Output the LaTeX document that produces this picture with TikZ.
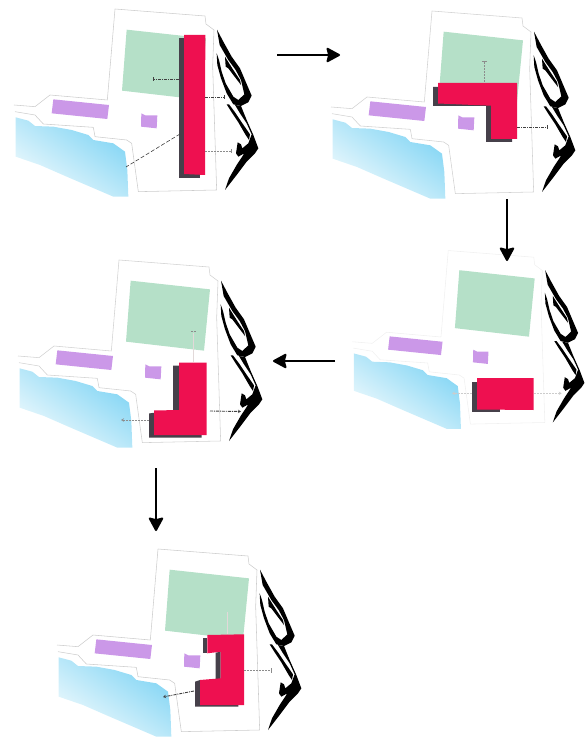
\documentclass[tikz,border=0pt]{standalone}
\usetikzlibrary{arrows.meta}
\definecolor{lawn}{HTML}{B5E0C8}
\definecolor{lilac}{HTML}{CB98E8}
\definecolor{bldg}{HTML}{EE1050}
\definecolor{shadowc}{HTML}{46404A}
\definecolor{seaA}{HTML}{7FD4F4}
\definecolor{seaB}{HTML}{F0FAFD}
\tikzset{
  x=1pt,y=-1pt,
  flow/.style={line width=2pt,-{Stealth[length=15pt,width=16pt,inset=2pt,round]}},
  view/.style={line width=0.9pt,dash pattern=on 3pt off 1pt on 1pt off 1pt,color=black!75},
  viewlight/.style={line width=0.5pt,dash pattern=on 2pt off 1pt,color=black!45},
  faint/.style={line width=0.5pt,color=red!25!black!15},
  head/.style={-{Stealth[length=3pt,width=3.5pt,open]}},
  stopbar/.style={-{Bar[width=4pt,length=0.8pt]}},
  rock/.style={fill=black,draw=none},
}
\newcommand{\sitebase}[4]{%
\begin{scope}[shift={(#1,#2)},scale=#4/3]
  \shade[top color=seaA,bottom color=seaB,shading angle=-35]
    (47,352)--(85,362)--(105,378)--(160,380)--(215,390)--(265,405)--(280,420)--(340,430)--(375,455)--(382,510)--(385,590)--(340,590)--(200,530)--(120,495)--(47,470)--cycle;
  \fill[lawn] (380,89)--(618,115)--(600,299)--(366,272)--cycle;
  \fill[lilac] (160,298)--(327,315)--(322,357)--(155,340)--cycle;
  \fill[lilac] (424,340)--(436,346)--(472,346)--(470,385)--(423,380)--cycle;
  \draw[color=#3,line width=0.55pt,line join=round]
    (42,315)--(105,320)--(150,285)--(322,300)--(345,27)--(615,48)--(618,72)--(642,90)--(638,200)--(650,570)--(415,575)--(395,430)--(380,420)--(285,410)--(280,382)--(130,372)--(105,345)--(45,335);
  \begin{scope}[shift={(615,75)}]
    \fill[rock] (36,14)--(55,50)--(80,95)--(105,130)--(122,170)--(140,212)--(130,232)--(108,243)--(85,238)--(65,205)--(48,160)--(37,120)--(35,85)--(42,105)--(50,140)--(62,175)--(85,215)--(100,225)--(118,208)--(108,165)--(92,135)--(70,105)--(44,60)--cycle;
    \fill[rock] (60,95)--(68,108)--(85,135)--(105,165)--(108,180)--(85,150)--(70,130)--(62,125)--cycle;
    \fill[rock] (90,240)--(108,243)--(125,285)--(145,330)--(160,370)--(150,385)--(125,410)--(95,450)--(60,495)--(72,460)--(95,420)--(118,385)--(100,395)--(93,385)--(98,352)--(108,358)--(112,370)--(130,355)--(140,328)--(125,295)--(105,265)--cycle;
    \fill[rock] (65,238)--(72,238)--(90,262)--(110,292)--(135,328)--(132,345)--(122,330)--(100,292)--(80,262)--cycle;
  \end{scope}
\end{scope}}
\begin{document}
\begin{tikzpicture}
\useasboundingbox (0,0) rectangle (587,738);
\sitebase{0}{0}{black!20}{1}
\sitebase{317}{2}{black!18}{1}
\sitebase{4}{251}{black!18}{1}
\sitebase{339}{242}{black!6}{0.95}
\sitebase{43}{540}{black!20}{1}

% panel 1
\fill[shadowc] (179,37.7)--(200,37.7)--(200,177.7)--(179,177.7)--cycle;
\fill[bldg] (184,35)--(205.3,35)--(205,175)--(184,174)--cycle;
\draw[view,stopbar] (179,79)--(153,79);
\draw[view,stopbar] (205,97)--(225,97);
\draw[viewlight,stopbar] (205,151)--(232,151);
\draw[view,line width=0.6pt,dash pattern=on 4pt off 2pt] (180,134)--(126,167);

% panel 2
\fill[shadowc] (433,87)--(445,87)--(445,100)--(500,100)--(512,130)--(512,142)--(486,142)--(486,106)--(433,106)--cycle;
\fill[bldg] (438,83)--(517,83)--(517,139)--(491,139)--(491,105.7)--(438,103.5)--cycle;
\draw[viewlight,stopbar] (484,82)--(484,61);
\draw[view,stopbar,line width=0.6pt] (517,127)--(548,127);

% panel 3
\fill[shadowc] (173,365.7)--(190,365.7)--(190,425)--(201.5,430)--(201.5,437.5)--(149,437.5)--(149,413.5)--(173,410)--cycle;
\fill[bldg] (179,362.7)--(206.7,362.7)--(206.7,435)--(154,435)--(154,410.5)--(179,410)--cycle;
\draw[faint] (193.5,333)--(193.5,362);
\draw[viewlight] (191,331.5)--(196,331.5);
\draw[viewlight,head] (149,420)--(121,420);
\draw[view,head] (210,411)--(241,411.5);

% panel 4
\fill[shadowc] (472.3,381.7)--(500,381.7)--(500,412.3)--(472.3,412.3)--cycle;
\fill[bldg] (477,378)--(533.7,378)--(533.7,410)--(477,409.5)--cycle;
\draw[viewlight,color=black!20,head] (472,393.3)--(452,393.3);
\draw[viewlight,color=black!20,head] (534,393.3)--(561.7,393.3);

% panel 5
\fill[shadowc] (202.7,638.3)--(207.3,638.3)--(207.3,653.3)--(202.7,653.3)--cycle;
\fill[shadowc] (215.7,652.7)--(220.7,651.7)--(220.7,679)--(215.7,679)--cycle;
\fill[shadowc] (195,681.7)--(200,680)--(200,705)--(238.3,705)--(238.3,706.7)--(195,706.7)--cycle;
\fill[bldg] (207.3,635)--(244,634.3)--(244,705)--(200,705)--(200,680)--(220.7,678.3)--(220.7,651.7)--(207.3,653.3)--cycle;
\draw[faint] (227,612)--(227,634);
\draw[viewlight,stopbar] (244,670)--(272,670);
\draw[view,head] (194,691)--(163,697);

% flow arrows
\coordinate (a1s) at (277,55);
\coordinate (a1e) at (340,55);
\coordinate (a2s) at (507,199);
\coordinate (a2e) at (507,261);
\coordinate (a3s) at (335,361);
\coordinate (a3e) at (273,361);
\coordinate (a4s) at (156,468);
\coordinate (a4e) at (156,531);
\draw[flow] (a1s)--(a1e);
\draw[flow] (a2s)--(a2e);
\draw[flow] (a3s)--(a3e);
\draw[flow] (a4s)--(a4e);
\end{tikzpicture}
\end{document}
